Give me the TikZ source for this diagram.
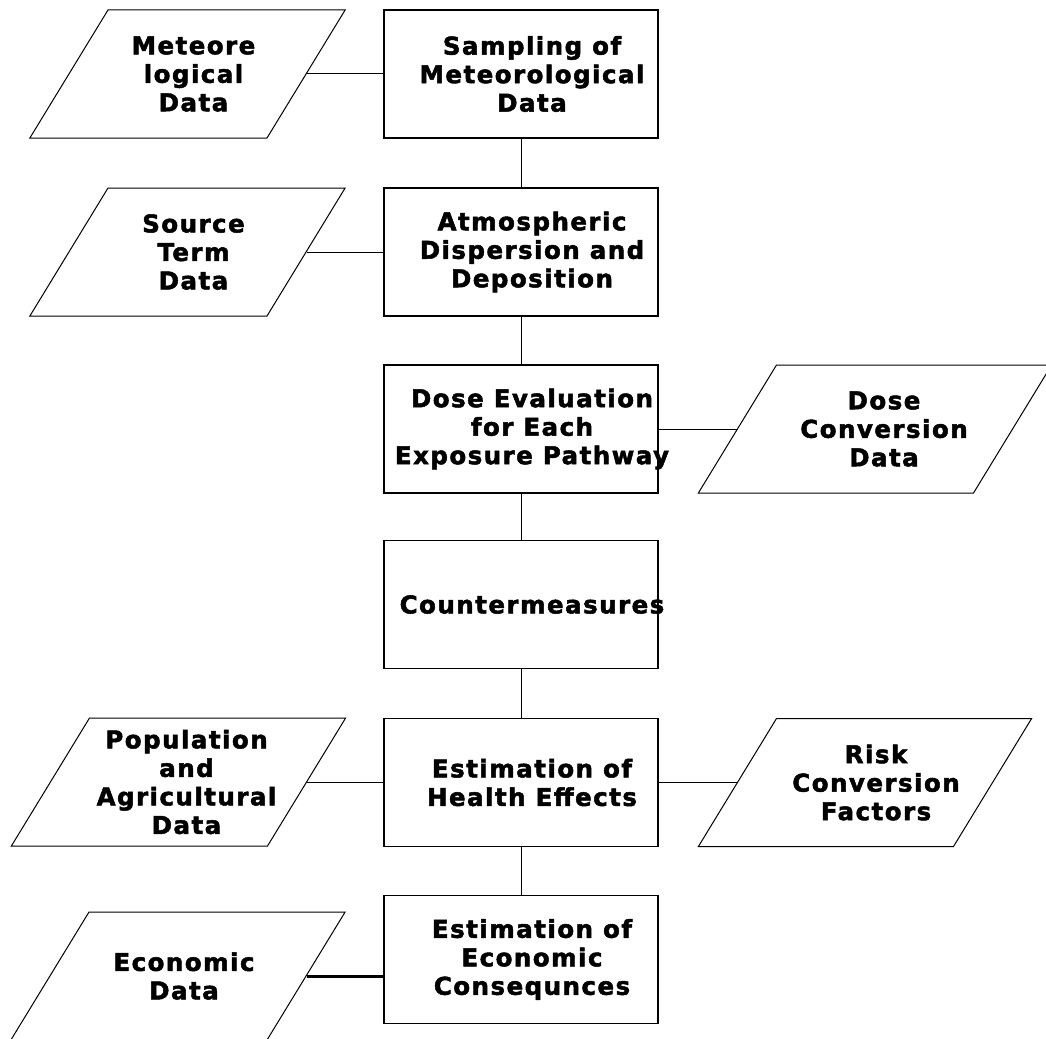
\documentclass[tikz,border=0pt]{standalone}
\usepackage{fontspec}
\newfontfamily\chartfont{DejaVu Sans}[LetterSpace=6, FakeBold=2]
\usetikzlibrary{shapes.geometric}

\begin{document}
\begin{tikzpicture}[x=1pt, y=-1pt,
  stage/.style={draw, line width=1.3pt, minimum width=274pt, minimum height=128pt, inner sep=0pt},
  datain/.style={draw, line width=1pt, trapezium, trapezium left angle=58.6,
    trapezium right angle=121.4, inner ysep=64pt, minimum width=0pt, minimum height=0pt},
  txt/.style={font=\chartfont\bfseries\fontsize{24.5}{28.5}\selectfont, align=center, inner sep=0pt},
  link/.style={line width=1pt}]

  \useasboundingbox (0,0) rectangle (1046,1038);
  \clip (0,0) rectangle (1046,1038);

  % main chain
  \node[stage] (sample)   at (521,74)    {};
  \node[stage] (disperse) at (521,252)   {};
  \node[stage] (dose)     at (521,429)   {};
  \node[stage] (counter)  at (521,604.5) {};
  \node[stage] (health)   at (521,782.5) {};
  \node[stage] (econ)     at (521,959.5) {};

  \node[txt] (sampleT)   at ([xshift=11pt]sample.center)   {Sampling of\\Meteorological\\Data};
  \node[txt] (disperseT) at ([xshift=11pt]disperse.center) {Atmospheric\\Dispersion and\\Deposition};
  \node[txt] (doseT)     at ([xshift=11pt]dose.center)     {Dose Evaluation\\for Each\\Exposure Pathway};
  \node[txt] (counterT)  at ([xshift=11pt]counter.center)  {Countermeasures};
  \node[txt] (healthT)   at ([xshift=11pt]health.center)   {Estimation of\\Health Effects};
  \node[txt] (econT)     at ([xshift=11pt]econ.center)     {Estimation of\\Economic\\Consequnces};

  % input data
  \node[datain, inner xsep=79.5pt] (meteo)    at (187.5,74)  {};
  \node[datain, inner xsep=79.5pt] (source)   at (187.5,252) {};
  \node[datain, inner xsep=98.5pt] (doseconv) at (875,429)   {};
  \node[datain, inner xsep=89pt]   (popul)    at (178.5,782) {};
  \node[datain, inner xsep=88.5pt] (risk)     at (865,782.5) {};
  \node[datain, inner xsep=89pt]   (econdata) at (178,976)   {};

  \node[txt] (meteoT)    at ([xshift=6pt]meteo.center)    {Meteore\\logical\\Data};
  \node[txt] (sourceT)   at ([xshift=6pt]source.center)   {Source\\Term\\Data};
  \node[txt] (doseconvT) at ([xshift=9pt]doseconv.center) {Dose\\Conversion\\Data};
  \node[txt] (populT)    at ([xshift=8pt]popul.center)    {Population\\and\\Agricultural\\Data};
  \node[txt] (riskT)     at ([xshift=11pt]risk.center)    {Risk\\Conversion\\Factors};
  \node[txt] (econdataT) at ([xshift=6pt]econdata.center) {Economic\\Data};

  % connections
  \draw[link] (sample) -- (disperse);
  \draw[link] (disperse) -- (dose);
  \draw[link] (dose) -- (counter);
  \draw[link] (counter) -- (health);
  \draw[link] (health) -- (econ);

  \draw[link] (meteo.east) -- (meteo.east -| sample.west);
  \draw[link] (source.east) -- (source.east -| disperse.west);
  \draw[link] (dose.east) -- (dose.east -| doseconv.west);
  \draw[link] (popul.east) -- (popul.east -| health.west);
  \draw[link] (health.east) -- (health.east -| risk.west);
  \draw[link, line width=3pt] (econdata.east) -- (econdata.east -| econ.west);
\end{tikzpicture}
\end{document}
